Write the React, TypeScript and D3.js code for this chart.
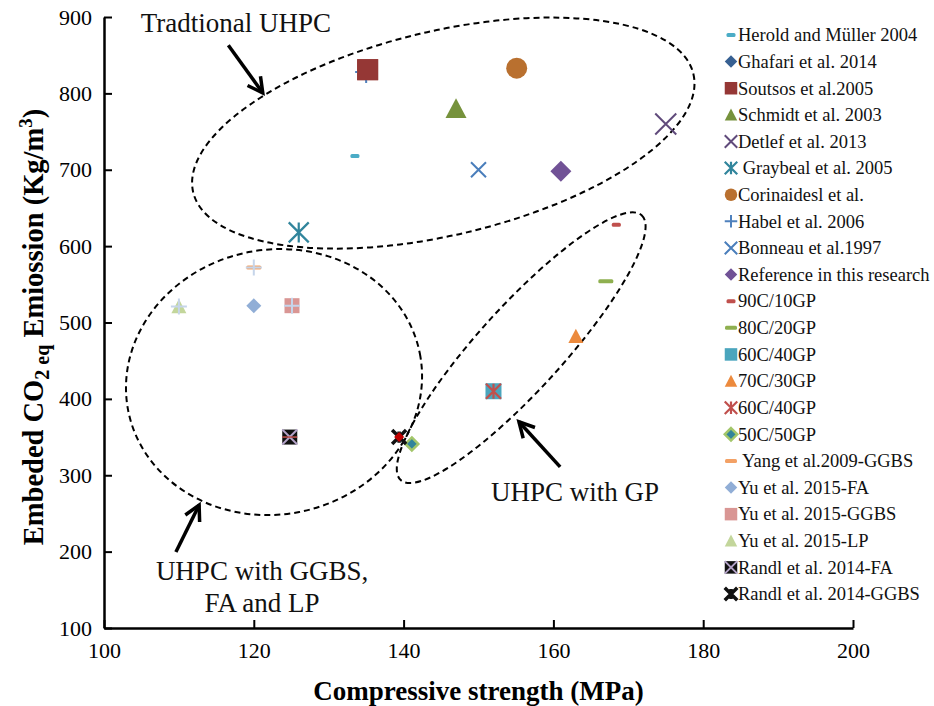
import { useEffect, useRef } from 'react';
import * as d3 from 'd3';

// Series as they appear in the legend (top to bottom)
const seriesNames = [
  'Herold and Müller 2004',
  'Ghafari et al. 2014',
  'Soutsos et al.2005',
  'Schmidt et al. 2003',
  'Detlef et al. 2013',
  ' Graybeal et al. 2005',
  'Corinaidesl et al.',
  'Habel et al. 2006',
  'Bonneau et al.1997',
  'Reference in this research',
  '90C/10GP',
  '80C/20GP',
  '60C/40GP',
  '70C/30GP',
  '60C/40GP',
  '50C/50GP',
  ' Yang et al.2009-GGBS',
  'Yu et al. 2015-FA',
  'Yu et al. 2015-GGBS',
  'Yu et al. 2015-LP',
  'Randl et al. 2014-FA',
  'Randl et al. 2014-GGBS',
];

// Compressive strength (MPa), one point per series
const strengthValues = [133.5, 135, 135.2, 147, 175, 126, 155.1, 135, 150, 161, 168.4, 167, 152, 163, 152, 141.1, 120, 120, 125.1, 110, 124.8, 139.4];
// Embedded CO2eq emission (kg/m3)
const emissionValues = [718, 828, 831, 780, 760, 618, 833, 828, 700, 698, 628, 554, 410, 482, 410, 341, 572, 522, 522, 521, 350, 350];

const xTicks = [100, 120, 140, 160, 180, 200];
const yTicks = [100, 200, 300, 400, 500, 600, 700, 800, 900];

// marker look per series: [shape, size, fill, stroke]
const markerStyles: [string, number, string, string][] = [
  ['dash', 9, '#4bacc6', ''],
  ['diamond', 18, '#376092', ''],
  ['square', 21, '#953735', ''],
  ['triangle', 21, '#76923c', ''],
  ['x', 21, '#604a7b', ''],
  ['star', 20, '#31859c', ''],
  ['circle', 21, '#b9702f', ''],
  ['plus', 22, '#4f81bd', ''],
  ['x', 15, '#4a7ebb', ''],
  ['diamond', 21, '#715296', ''],
  ['dash', 9, '#c0504d', ''],
  ['dash', 15, '#8fb050', ''],
  ['square', 16, '#4aa5bd', ''],
  ['triangle', 15, '#ec8a3d', ''],
  ['star', 15, '#c0504d', ''],
  ['diamond', 13, '#31849b', '#a3c66a'],
  ['dash', 15, '#f3a165', ''],
  ['diamond', 15, '#91aed6', ''],
  ['square', 15, '#d99694', ''],
  ['triangle', 15, '#c3d69b', ''],
  ['boxx', 15, '#111111', '#b3a2c7'],
  ['boldstar', 14, '#111111', '#c00000'],
];
// series that show a pale cross on top of the marker in the plot
const crossed = [16, 18, 19];

const FONT = "'Liberation Serif', 'Times New Roman', serif";

const x = d3.scaleLinear().domain([100, 200]).range([104, 853]);
const y = d3.scaleLinear().domain([100, 900]).range([628, 17]);

function Marker({ cx, cy, style, legend }: { cx: number; cy: number; style: [string, number, string, string]; legend?: boolean }) {
  const [shape, rawSize, fill, stroke] = style;
  const s = legend ? Math.min(rawSize, shape === 'dash' ? 12 : 12.5) : rawSize;
  const h = s / 2;
  switch (shape) {
    case 'dash':
      return <rect x={cx - h} y={cy - 2} width={s} height={4} rx={1.5} fill={fill} />;
    case 'square':
      return <rect x={cx - h} y={cy - h} width={s} height={s} fill={fill} />;
    case 'circle':
      return <circle cx={cx} cy={cy} r={h} fill={fill} />;
    case 'triangle':
      return <path d={`M${cx},${cy - h}L${cx + h},${cy + h * 0.9}L${cx - h},${cy + h * 0.9}Z`} fill={fill} />;
    case 'diamond':
      return (
        <path
          d={`M${cx},${cy - h}L${cx + h},${cy}L${cx},${cy + h}L${cx - h},${cy}Z`}
          fill={fill}
          stroke={stroke || 'none'}
          strokeWidth={stroke ? 2.5 : 0}
        />
      );
    case 'x':
      return (
        <path d={`M${cx - h},${cy - h}L${cx + h},${cy + h}M${cx - h},${cy + h}L${cx + h},${cy - h}`} stroke={fill} strokeWidth={2} />
      );
    case 'plus':
      return <path d={`M${cx - h},${cy}L${cx + h},${cy}M${cx},${cy - h}L${cx},${cy + h}`} stroke={fill} strokeWidth={2} />;
    case 'star':
      return (
        <path
          d={`M${cx - h},${cy - h}L${cx + h},${cy + h}M${cx - h},${cy + h}L${cx + h},${cy - h}M${cx},${cy - h}L${cx},${cy + h}`}
          stroke={fill}
          strokeWidth={2.2}
        />
      );
    case 'boxx':
      return (
        <g>
          <rect x={cx - h} y={cy - h} width={s} height={s} fill={fill} />
          <path d={`M${cx - h},${cy - h}L${cx + h},${cy + h}M${cx - h},${cy + h}L${cx + h},${cy - h}`} stroke={stroke} strokeWidth={2} />
          {!legend && <path d={`M${cx - h},${cy}L${cx + h},${cy}`} stroke="#c0504d" strokeWidth={1.5} />}
        </g>
      );
    case 'boldstar':
      return (
        <g>
          <path
            d={`M${cx - h},${cy - h}L${cx + h},${cy + h}M${cx - h},${cy + h}L${cx + h},${cy - h}M${cx},${cy - h * 0.8}L${cx},${cy + h * 0.8}`}
            stroke={fill}
            strokeWidth={3.5}
          />
          {!legend && <path d={`M${cx},${cy - 5}L${cx + 5},${cy}L${cx},${cy + 5}L${cx - 5},${cy}Z`} fill={stroke} />}
        </g>
      );
    default:
      return null;
  }
}

// group outlines: centre in data units, radii in px, rotation in degrees
const groupOutlines = [
  { cx: 145.3, cy: 748, rx: 257, ry: 102, angle: -13.3 },
  { cx: 122.7, cy: 422, rx: 148.6, ry: 132.4, angle: -11 },
  { cx: 155.7, cy: 467, rx: 179, ry: 42, angle: -47.7 },
];

// arrows from tail to tip, data units
const groupArrows = [
  { x1: 116.6, y1: 863, x2: 121.2, y2: 800.5 },
  { x1: 160.9, y1: 311, x2: 155.4, y2: 370 },
  { x1: 109.6, y1: 199.5, x2: 112.7, y2: 261 },
];

const groupLabels = [
  { lines: ['Tradtional UHPC'], x: 117.6, y: 880 },
  { lines: ['UHPC with GP'], x: 162.9, y: 266 },
  { lines: ['UHPC with GGBS,', 'FA and LP'], x: 121.1, y: 163 },
];

function arrowHead(x1: number, y1: number, x2: number, y2: number) {
  const t = Math.atan2(y2 - y1, x2 - x1);
  const L = 17;
  const a = (28 * Math.PI) / 180;
  const p1 = [x2 - L * Math.cos(t - a), y2 - L * Math.sin(t - a)];
  const p2 = [x2 - L * Math.cos(t + a), y2 - L * Math.sin(t + a)];
  return `M${p1[0]},${p1[1]}L${x2},${y2}L${p2[0]},${p2[1]}`;
}

export default function App() {
  const xAxisRef = useRef<SVGGElement>(null);
  const yAxisRef = useRef<SVGGElement>(null);

  useEffect(() => {
    if (!xAxisRef.current || !yAxisRef.current) return;
    const gx = d3.select(xAxisRef.current);
    gx.selectAll('*').remove();
    gx.call(d3.axisBottom(x).tickValues(xTicks).tickSizeInner(-8).tickSizeOuter(0).tickPadding(14));
    gx.select('.domain').attr('stroke-width', 2.5);
    gx.selectAll('.tick line').attr('stroke-width', 2);
    gx.selectAll('.tick text').style('font-family', FONT).style('font-size', '22px').attr('fill', '#000');

    const gy = d3.select(yAxisRef.current);
    gy.selectAll('*').remove();
    gy.call(d3.axisLeft(y).tickValues(yTicks).tickSizeInner(-8).tickSizeOuter(0).tickPadding(12));
    gy.select('.domain').attr('stroke-width', 2.5);
    gy.selectAll('.tick line').attr('stroke-width', 2);
    gy.selectAll('.tick text').style('font-family', FONT).style('font-size', '22px').attr('fill', '#000');
  }, []);

  const legendTop = 35;
  const legendStep = (594 - 35) / (seriesNames.length - 1);

  return (
    <svg width={934} height={706} style={{ position: 'absolute', left: 0, top: 0, background: '#fff' }} fontFamily={FONT}>
      <rect width={934} height={706} fill="#fff" />

      {/* group outlines */}
      {groupOutlines.map((e, i) => (
        <ellipse
          key={i}
          cx={x(e.cx)}
          cy={y(e.cy)}
          rx={e.rx}
          ry={e.ry}
          transform={`rotate(${e.angle} ${x(e.cx)} ${y(e.cy)})`}
          fill="none"
          stroke="#000"
          strokeWidth={2}
          strokeDasharray="6 4"
        />
      ))}

      {/* points */}
      {seriesNames.map((name, i) => (
        <g key={i}>
          <Marker cx={x(strengthValues[i])} cy={y(emissionValues[i])} style={markerStyles[i]} />
          {crossed.includes(i) && (
            <path
              d={`M${x(strengthValues[i]) - 8},${y(emissionValues[i])}h16M${x(strengthValues[i])},${y(emissionValues[i]) - 8}v16`}
              stroke="#c6d5ea"
              strokeWidth={2}
            />
          )}
        </g>
      ))}
      {/* Soutsos drawn again on top of the hidden markers */}
      <Marker cx={x(strengthValues[2])} cy={y(emissionValues[2])} style={markerStyles[2]} />

      {/* arrows */}
      {groupArrows.map((a, i) => (
        <g key={i} stroke="#000" strokeWidth={3.5} fill="none" strokeLinecap="butt">
          <line x1={x(a.x1)} y1={y(a.y1)} x2={x(a.x2)} y2={y(a.y2)} />
          <path d={arrowHead(x(a.x1), y(a.y1), x(a.x2), y(a.y2))} />
        </g>
      ))}

      {/* group labels */}
      {groupLabels.map((l, i) => (
        <text key={i} x={x(l.x)} y={y(l.y)} textAnchor="middle" fontSize={27} fill="#111">
          {l.lines.map((t, j) => (
            <tspan key={j} x={x(l.x)} dy={j === 0 ? 0 : 32}>
              {t}
            </tspan>
          ))}
        </text>
      ))}

      {/* axes */}
      <g ref={xAxisRef} transform={`translate(0,${y(100)})`} />
      <g ref={yAxisRef} transform={`translate(${x(100)},0)`} />

      {/* axis titles */}
      <text x={(x(100) + x(200)) / 2} y={700} textAnchor="middle" fontSize={27} fontWeight="bold">
        Compressive strength (MPa)
      </text>
      <text transform="translate(43,327) rotate(-90)" textAnchor="middle" fontSize={28.5} fontWeight="bold">
        Embeded CO
        <tspan fontSize={20} dy={6}>2 eq</tspan>
        <tspan dy={-6}> Emiossion (Kg/m</tspan>
        <tspan fontSize={19} dy={-11}>3</tspan>
        <tspan dy={11}>)</tspan>
      </text>

      {/* legend */}
      {seriesNames.map((name, i) => {
        const ly = legendTop + i * legendStep;
        return (
          <g key={i}>
            <Marker cx={731} cy={ly} style={markerStyles[i]} legend />
            <text x={738} y={ly} dy="0.34em" fontSize={18.5} fill="#111" style={{ whiteSpace: 'pre' }}>
              {name}
            </text>
          </g>
        );
      })}
    </svg>
  );
}
